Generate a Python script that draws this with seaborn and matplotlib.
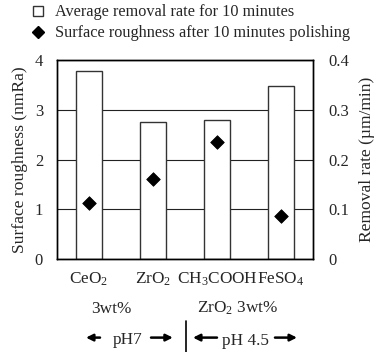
import matplotlib
matplotlib.use("Agg")
import matplotlib.pyplot as plt
import seaborn as sns
from matplotlib.lines import Line2D

# data
categories = ["CeO$_2$", "ZrO$_2$", "CH$_3$COOH", "FeSO$_4$"]
removal_rate = [0.378, 0.275, 0.279, 0.348]      # um/min, right axis
roughness = [1.12, 1.60, 2.35, 0.86]             # nmRa, left axis
left_ticks = [0, 1, 2, 3, 4]
right_ticks = [0, 0.1, 0.2, 0.3, 0.4]
right_ticklabels = ["0", "0.1", "0.2", "0.3", "0.4"]

sns.set_style("white")
plt.rcParams["font.family"] = ["Liberation Serif", "DejaVu Serif"]
plt.rcParams["mathtext.fontset"] = "custom"
plt.rcParams["mathtext.rm"] = "Liberation Serif"
plt.rcParams["mathtext.it"] = "Liberation Serif:italic"
plt.rcParams["font.size"] = 12.4

fig = plt.figure(figsize=(3.77, 3.52), dpi=100)
ax = fig.add_axes([0.1512, 0.2642, 0.679, 0.5653])

# =========================
# BARS: removal rate (right axis)
# =========================
sns.barplot(x=categories, y=removal_rate, ax=ax, color="white",
            edgecolor="#333333", linewidth=1.0, width=0.41, zorder=2)
ax.set_ylim(0, 0.4)
ax.set_xlim(-0.5, 3.5)
ax.grid(axis="y", color="#222222", linewidth=0.8)
ax.set_axisbelow(True)
ax.tick_params(axis="x", length=0, pad=8)
ax.set_xticks([0.5, 1.5, 2.5], minor=True)
ax.tick_params(axis="x", which="minor", direction="in", length=3, width=1, color="#444444")

# =========================
# DIAMONDS: roughness (left axis)
# =========================
ax2 = ax.twinx()
sns.scatterplot(x=list(range(len(categories))), y=roughness, ax=ax2,
                marker="D", color="black", s=48, edgecolor="black", zorder=5)
ax2.set_ylim(0, 4)
ax2.set_xlim(-0.5, 3.5)
ax2.yaxis.tick_left()
ax2.yaxis.set_label_position("left")
ax2.set_yticks(left_ticks)
ax2.set_ylabel("Surface roughness (nmRa)", labelpad=5, fontsize=12.6)
ax2.tick_params(axis="y", length=0, pad=10, labelsize=12)

# right axis belongs to the bars (set after twinx, which resets sides)
ax.yaxis.tick_right()
ax.yaxis.set_label_position("right")
ax.set_yticks(right_ticks)
ax.set_yticklabels(right_ticklabels)
ax.set_ylabel("Removal rate (\u00b5m/min)", labelpad=7, fontsize=12.6)
ax.tick_params(axis="y", length=0, pad=11, labelsize=12)

for a in (ax, ax2):
    for s in a.spines.values():
        s.set_color("black")
        s.set_linewidth(1.0)
        s.set_visible(True)

# =========================
# EXTRA X-AXIS TEXT
# =========================
tr = ax.get_xaxis_transform()
ax.text(0.355, -0.25, "3wt%", transform=tr, ha="center", va="center")
ax.text(2.32, -0.25, "ZrO$_2$ 3wt%", transform=tr, ha="center", va="center")
ax.text(0.60, -0.405, "pH7", transform=tr, ha="center", va="center")
ax.text(2.445, -0.41, "pH 4.5", transform=tr, ha="center", va="center")
arrow = dict(arrowstyle="-|>", lw=1.8, color="black", mutation_scale=10,
             shrinkA=0, shrinkB=0)
for x0, x1 in [(0.172, -0.047), (0.969, 1.31), (2.0, 1.625), (2.906, 3.25)]:
    ax.annotate("", xy=(x1, -0.395), xytext=(x0, -0.395), xycoords=tr,
                textcoords=tr, arrowprops=arrow, annotation_clip=False)
ax.plot([1.516, 1.516], [-0.31, -0.47], transform=tr, color="black",
        linewidth=1.2, clip_on=False)

# =========================
# LEGEND
# =========================
handles = [
    Line2D([], [], marker="s", linestyle="none", markerfacecolor="white",
           markeredgecolor="#333333", markersize=7),
    Line2D([], [], marker="D", linestyle="none", color="black", markersize=6),
]
labels = ["Average removal rate for 10 minutes",
          "Surface roughness after 10 minutes polishing"]
fig.legend(handles, labels, loc="upper left", bbox_to_anchor=(0.062, 1.006),
           frameon=False, handletextpad=0.55, handlelength=1.0,
           labelspacing=0.3, borderaxespad=0.0, fontsize=11.7)

fig.savefig("out.png", dpi=100)
plt.close(fig)
